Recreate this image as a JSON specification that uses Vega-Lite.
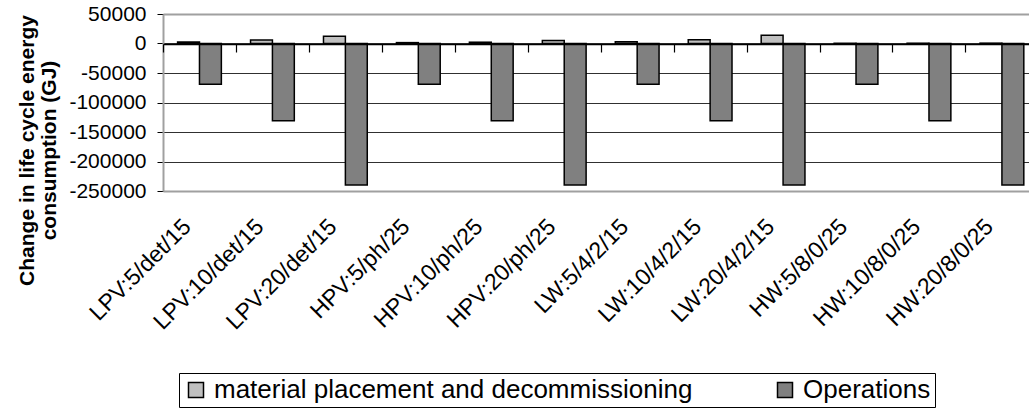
{
  "$schema": "https://vega.github.io/schema/vega-lite/v6.json",
  "autosize": "none",
  "width": 866,
  "height": 177,
  "padding": {"left": 163, "top": 14, "right": 0, "bottom": 218},
  "background": "white",
  "config": {"view": {"stroke": null}, "font": "Liberation Sans"},
  "data": {
    "values": [
      {"scenario": "LPV:5/det/15", "component": "material placement and decommissioning", "value": 2500},
      {"scenario": "LPV:5/det/15", "component": "Operations", "value": -69000},
      {"scenario": "LPV:10/det/15", "component": "material placement and decommissioning", "value": 6000},
      {"scenario": "LPV:10/det/15", "component": "Operations", "value": -131000},
      {"scenario": "LPV:20/det/15", "component": "material placement and decommissioning", "value": 12500},
      {"scenario": "LPV:20/det/15", "component": "Operations", "value": -240000},
      {"scenario": "HPV:5/ph/25", "component": "material placement and decommissioning", "value": 1500},
      {"scenario": "HPV:5/ph/25", "component": "Operations", "value": -69000},
      {"scenario": "HPV:10/ph/25", "component": "material placement and decommissioning", "value": 2200},
      {"scenario": "HPV:10/ph/25", "component": "Operations", "value": -131000},
      {"scenario": "HPV:20/ph/25", "component": "material placement and decommissioning", "value": 5000},
      {"scenario": "HPV:20/ph/25", "component": "Operations", "value": -240000},
      {"scenario": "LW:5/4/2/15", "component": "material placement and decommissioning", "value": 2800},
      {"scenario": "LW:5/4/2/15", "component": "Operations", "value": -69000},
      {"scenario": "LW:10/4/2/15", "component": "material placement and decommissioning", "value": 6500},
      {"scenario": "LW:10/4/2/15", "component": "Operations", "value": -131000},
      {"scenario": "LW:20/4/2/15", "component": "material placement and decommissioning", "value": 14000},
      {"scenario": "LW:20/4/2/15", "component": "Operations", "value": -240000},
      {"scenario": "HW:5/8/0/25", "component": "material placement and decommissioning", "value": 400},
      {"scenario": "HW:5/8/0/25", "component": "Operations", "value": -69000},
      {"scenario": "HW:10/8/0/25", "component": "material placement and decommissioning", "value": 500},
      {"scenario": "HW:10/8/0/25", "component": "Operations", "value": -131000},
      {"scenario": "HW:20/8/0/25", "component": "material placement and decommissioning", "value": 600},
      {"scenario": "HW:20/8/0/25", "component": "Operations", "value": -240000}
    ]
  },
  "layer": [
    {
      "mark": {"type": "bar", "stroke": "black", "strokeWidth": 1.5},
      "encoding": {
        "x": {
          "field": "scenario", "type": "nominal", "sort": null,
          "scale": {"range": [0, 875.4], "paddingInner": 0.4, "paddingOuter": 0.2},
          "axis": {
            "orient": "bottom", "title": null, "domain": false, "ticks": false, "grid": false,
            "labelAngle": -45, "labelAlign": "right", "labelBaseline": "top",
            "labelPadding": 24, "labelOffset": -20, "labelFontSize": 23,
            "labelColor": "black", "labelFont": "Liberation Sans", "labelLimit": 300,
            "labelOverlap": false
          }
        },
        "xOffset": {
          "field": "component", "type": "nominal", "sort": null,
          "scale": {"paddingInner": 0, "paddingOuter": 0}
        },
        "y": {
          "field": "value", "type": "quantitative",
          "scale": {"domain": [-250000, 50000], "nice": false, "zero": false},
          "axis": {
            "title": ["Change in life cycle energy", "consumption (GJ)"],
            "titleFont": "Liberation Sans", "titleFontSize": 21, "titleFontWeight": "bold",
            "titleColor": "black", "titleLineHeight": 22, "titleAngle": -90,
            "titleAlign": "center", "titleBaseline": "top", "titleX": -147, "titleY": 136,
            "values": [50000, 0, -50000, -100000, -150000, -200000, -250000],
            "tickCount": 20,
            "labelExpr": "'' + datum.value", "labelOverlap": false,
            "labelFont": "Liberation Sans", "labelFontSize": 21, "labelColor": "black",
            "labelPadding": 11, "tickSize": 6, "tickColor": "black",
            "domain": true, "domainColor": "#a0a0a0", "domainWidth": 2,
            "grid": true,
            "gridColor": {"condition": {"test": "datum.value == 50000 || datum.value == -250000", "value": "#a0a0a0"}, "value": "#303030"},
            "gridWidth": {"condition": {"test": "datum.value == 50000 || datum.value == -250000", "value": 2}, "value": 1}
          }
        },
        "color": {
          "field": "component", "type": "nominal",
          "scale": {"domain": ["material placement and decommissioning", "Operations"], "range": ["#c0c0c0", "#808080"]},
          "legend": {
            "orient": "none", "legendX": 16, "legendY": 359, "direction": "horizontal",
            "title": null, "symbolType": "square", "symbolSize": 225,
            "symbolStrokeColor": "black", "symbolStrokeWidth": 1.5, "symbolOpacity": 1,
            "labelFont": "Liberation Sans", "labelFontSize": 26, "labelColor": "black",
            "labelOffset": 5, "labelLimit": 600, "columnPadding": 79,
            "padding": 4, "strokeColor": "black", "fillColor": "white"
          }
        }
      }
    },
    {
      "mark": {"type": "bar", "opacity": 0},
      "encoding": {
        "x": {
          "field": "scenario", "type": "nominal", "sort": null,
          "axis": {
            "orient": "top", "title": null, "labels": false, "grid": false,
            "domain": true, "domainColor": "black", "domainWidth": 1.5,
            "ticks": true, "tickColor": "black", "tickWidth": 1.2, "tickSize": -8,
            "bandPosition": 0, "tickOffset": -14.6, "offset": -30, "zindex": 1
          }
        },
        "xOffset": {"field": "component", "type": "nominal", "sort": null},
        "y": {"field": "value", "type": "quantitative"}
      }
    }
  ]
}
